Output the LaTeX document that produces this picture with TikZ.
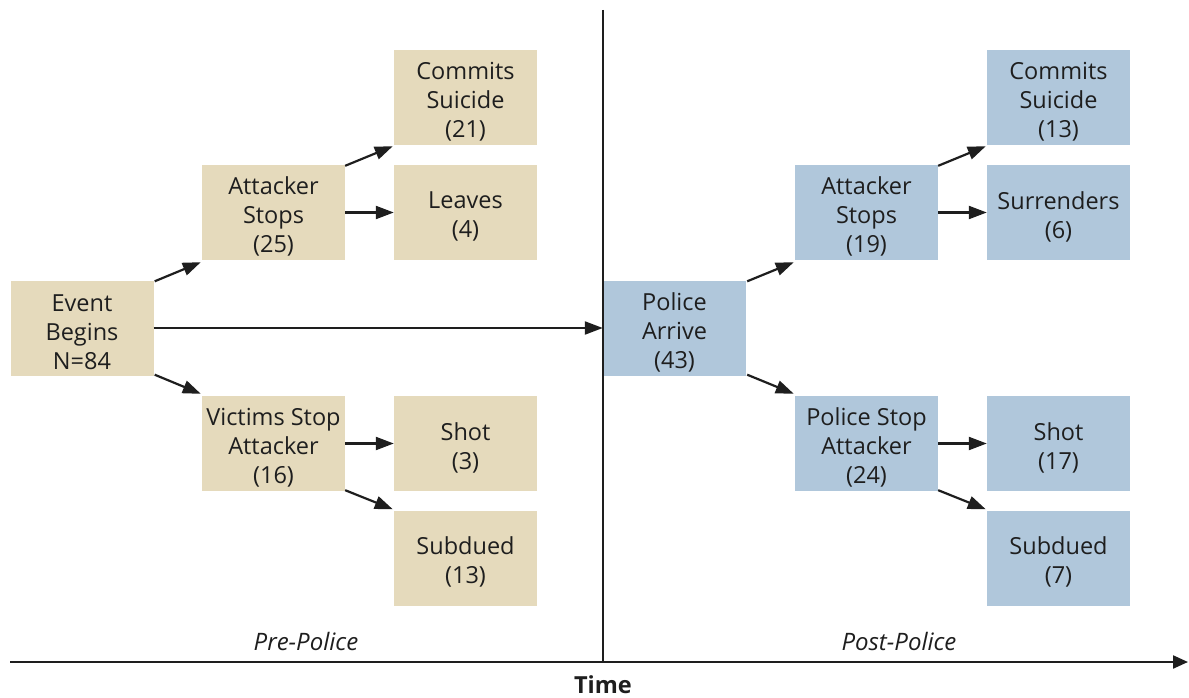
\documentclass[tikz,border=0pt]{standalone}
\usepackage{fontspec}
\setmainfont{Open Sans}
\usetikzlibrary{arrows.meta}
\definecolor{tanbox}{RGB}{229,218,188}
\definecolor{bluebox}{RGB}{176,199,219}
\definecolor{ink}{RGB}{30,30,30}
\begin{document}
\begin{tikzpicture}[x=1pt,y=-1pt,
  box/.style={minimum width=143pt,minimum height=95pt,inner sep=0pt},
  tx/.style={anchor=center,align=center,yshift=-4pt,inner sep=0pt,
    font=\fontsize{23.5}{29}\selectfont,text=ink},
  pre/.style={box,fill=tanbox,label={[tx]center:#1}},
  post/.style={box,fill=bluebox,label={[tx]center:#1}},
  arr/.style={draw=ink,line width=2.2pt,-{Triangle[length=18pt,width=13pt]}},
  lbl/.style={font=\fontsize{24}{28}\selectfont\itshape,text=ink}]
\useasboundingbox (0,0) rectangle (1189,698);
% pre-police
\node[pre={Event\\Begins\\N=84}] (ev) at (82,328) {};
\node[pre={Attacker\\Stops\\(25)}] (as1) at (273.5,212.5) {};
\node[pre={Victims Stop\\Attacker\\(16)}] (vs) at (273.5,443.5) {};
\node[pre={Commits\\Suicide\\(21)}] (cs1) at (465.5,97.5) {};
\node[pre={Leaves\\(4)}] (lv) at (465.5,212.5) {};
\node[pre={Shot\\(3)}] (sh1) at (465.5,443.5) {};
\node[pre={Subdued\\(13)}] (sd1) at (465.5,558) {};
% post-police
\node[post={Police\\Arrive\\(43)}] (pa) at (674.5,328) {};
\node[post={Attacker\\Stops\\(19)}] (as2) at (866.5,212.5) {};
\node[post={Police Stop\\Attacker\\(24)}] (ps) at (866.5,443.5) {};
\node[post={Commits\\Suicide\\(13)}] (cs2) at (1058.5,97.5) {};
\node[post={Surrenders\\(6)}] (su) at (1058.5,212.5) {};
\node[post={Shot\\(17)}] (sh2) at (1058.5,443.5) {};
\node[post={Subdued\\(7)}] (sd2) at (1058.5,558) {};
% timeline
\coordinate (tl) at (10,662);
\coordinate (tr) at (1188,662);
\coordinate (vt) at (603,10);
\coordinate (vb) at (603,662);
\draw[ink,line width=2.2pt] (vt) -- (vb);
\draw[ink,line width=2.2pt,-{Triangle[length=15pt,width=13pt]}] (tl) -- (tr);
\node[lbl] (prel) at (306,641) {Pre-Police};
\node[lbl] (postl) at (899,641) {Post-Police};
\node[font=\fontsize{23.5}{28}\selectfont\bfseries,text=ink,inner sep=0pt] (time) at (603,685) {Time};
% arrows
\draw[arr] (ev.east) -- (pa.west);
\draw[arr] ([xshift=1pt,yshift=-1pt]ev.north east) -- ([xshift=-1pt,yshift=-2pt]as1.south west);
\draw[arr] ([xshift=1pt,yshift=1pt]ev.south east) -- ([xshift=-1pt,yshift=2pt]vs.north west);
\draw[arr] ([yshift=-1pt]as1.north east) -- ([xshift=-1pt,yshift=-1pt]cs1.south west);
\draw[arr] (as1.east) -- (lv.west);
\draw[arr] (vs.east) -- (sh1.west);
\draw[arr] ([yshift=1pt]vs.south east) -- ([xshift=-1pt,yshift=1pt]sd1.north west);
\draw[arr] ([xshift=1pt,yshift=-1pt]pa.north east) -- ([xshift=-1pt,yshift=-2pt]as2.south west);
\draw[arr] ([xshift=1pt,yshift=1pt]pa.south east) -- ([xshift=-1pt,yshift=2pt]ps.north west);
\draw[arr] ([yshift=-1pt]as2.north east) -- ([xshift=-1pt,yshift=-1pt]cs2.south west);
\draw[arr] (as2.east) -- (su.west);
\draw[arr] (ps.east) -- (sh2.west);
\draw[arr] ([yshift=1pt]ps.south east) -- ([xshift=-1pt,yshift=1pt]sd2.north west);
\end{tikzpicture}
\end{document}
